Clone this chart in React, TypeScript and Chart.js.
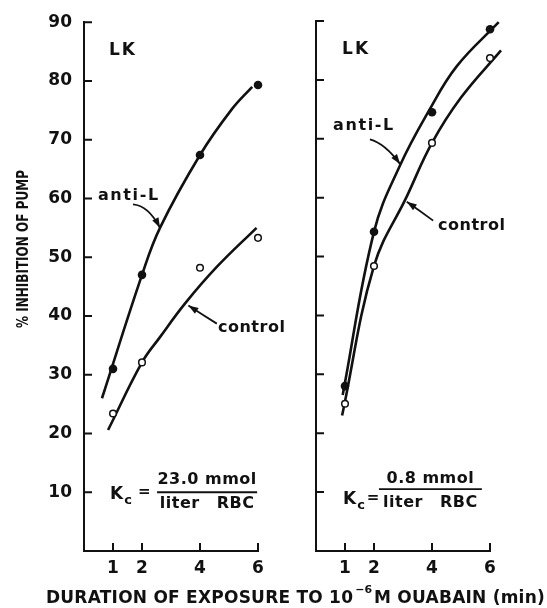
import React, { useEffect, useRef } from 'react';
import { Chart, registerables } from 'chart.js';

Chart.register(...registerables);

// ---------- data ----------
const TIMES = [1, 2, 4, 6];
const X_TICKS = [1, 2, 4, 6];
const Y_TICKS = [10, 20, 30, 40, 50, 60, 70, 80, 90];

const LEFT_ANTI_L = [31, 47, 67.4, 79.3];
const LEFT_CONTROL = [23.4, 32.1, 48.2, 53.3];
const RIGHT_ANTI_L = [28, 54.2, 74.5, 88.6];
const RIGHT_CONTROL = [25, 48.4, 69.3, 83.7];

// hand-drawn fitted curves
const LEFT_ANTI_L_FIT_X = [0.62, 2, 2.62, 4, 5.1, 5.8];
const LEFT_ANTI_L_FIT_Y = [26, 47, 55, 67.4, 75.2, 79];
const LEFT_CONTROL_FIT_X = [0.83, 2, 2.62, 3.48, 4.57, 5.95];
const LEFT_CONTROL_FIT_Y = [20.6, 32.1, 36.4, 42.1, 48.3, 55.0];
const RIGHT_ANTI_L_FIT_X = [0.92, 2, 2.9, 3.91, 4.85, 6.3];
const RIGHT_ANTI_L_FIT_Y = [26.5, 54.2, 65.5, 74.9, 82.3, 89.8];
const RIGHT_CONTROL_FIT_X = [0.9, 2, 3.14, 4, 5, 6.38];
const RIGHT_CONTROL_FIT_Y = [23, 48.4, 60.3, 69.3, 77, 85];

const LEFT_KC_NUM = '23.0 mmol';
const RIGHT_KC_NUM = '0.8 mmol';
const KC_DEN = 'liter RBC';

// ---------- style ----------
const W = 547;
const H = 608;
const FONT = '"DejaVu Sans", "Liberation Sans", sans-serif';
const INK = '#111';

type P = [number, number];
interface Notes {
  lk: P;
  antiText: P;
  antiArrow: [P, P, P];
  ctrlText: P;
  ctrlArrow: [P, P, P];
  k: P;
  eq: P;
  fracLine: [number, number, number];
  numY: number;
  denY: number;
  num: string;
}

interface Panel {
  anti: number[];
  ctrl: number[];
  antiFitX: number[];
  antiFitY: number[];
  ctrlFitX: number[];
  ctrlFitY: number[];
  showYLabels: boolean;
  padLeft: number;
  padRight: number;
  yWidth: number;
  titles: boolean;
  notes: Notes;
}

const LEFT: Panel = {
  anti: LEFT_ANTI_L,
  ctrl: LEFT_CONTROL,
  antiFitX: LEFT_ANTI_L_FIT_X,
  antiFitY: LEFT_ANTI_L_FIT_Y,
  ctrlFitX: LEFT_CONTROL_FIT_X,
  ctrlFitY: LEFT_CONTROL_FIT_Y,
  showYLabels: true,
  padLeft: 30,
  padRight: 289,
  yWidth: 54,
  titles: true,
  notes: {
    lk: [0.86, 85.2],
    antiText: [0.48, 60.5],
    antiArrow: [[1.69, 59.0], [2.22, 58.8], [2.62, 55.0]],
    ctrlText: [4.62, 37.9],
    ctrlArrow: [[4.58, 38.7], [4.1, 40.2], [3.6, 41.8]],
    k: [0.9, 9.6],
    eq: [2.08, 10.0],
    fracLine: [2.52, 5.97, 10.0],
    numY: 12.1,
    denY: 8.0,
    num: LEFT_KC_NUM,
  },
};

const RIGHT: Panel = {
  anti: RIGHT_ANTI_L,
  ctrl: RIGHT_CONTROL,
  antiFitX: RIGHT_ANTI_L_FIT_X,
  antiFitY: RIGHT_ANTI_L_FIT_Y,
  ctrlFitX: RIGHT_CONTROL_FIT_X,
  ctrlFitY: RIGHT_CONTROL_FIT_Y,
  showYLabels: false,
  padLeft: 30,
  padRight: 57,
  yWidth: 286,
  titles: false,
  notes: {
    lk: [0.9, 85.1],
    antiText: [0.59, 72.2],
    antiArrow: [[1.86, 69.9], [2.38, 69.2], [2.9, 65.7]],
    ctrlText: [4.21, 55.3],
    ctrlArrow: [[4.04, 56.1], [3.6, 57.7], [3.13, 59.3]],
    k: [0.93, 8.8],
    eq: [1.97, 9.0],
    fracLine: [2.17, 5.72, 10.5],
    numY: 12.2,
    denY: 8.1,
    num: RIGHT_KC_NUM,
  },
};

function setSpacing(ctx: any, px: number) {
  ctx.letterSpacing = px + 'px';
}

function drawText(ctx: any, s: string, x: number, y: number, font: string, align: CanvasTextAlign = 'left', spacing = 0) {
  ctx.font = font;
  ctx.textAlign = align;
  ctx.textBaseline = 'middle';
  setSpacing(ctx, spacing);
  ctx.fillText(s, x, y);
  setSpacing(ctx, 0);
}

function drawArrow(ctx: CanvasRenderingContext2D, a: P, c: P, b: P) {
  ctx.beginPath();
  ctx.moveTo(a[0], a[1]);
  ctx.quadraticCurveTo(c[0], c[1], b[0], b[1]);
  ctx.stroke();
  const ang = Math.atan2(b[1] - c[1], b[0] - c[0]);
  const L = 10;
  const Wd = 3.5;
  const bx = b[0] - L * Math.cos(ang);
  const by = b[1] - L * Math.sin(ang);
  ctx.beginPath();
  ctx.moveTo(b[0], b[1]);
  ctx.lineTo(bx + Wd * Math.sin(ang), by - Wd * Math.cos(ang));
  ctx.lineTo(bx - Wd * Math.sin(ang), by + Wd * Math.cos(ang));
  ctx.closePath();
  ctx.fill();
}

function decorPlugin(panel: Panel) {
  return {
    id: 'panelDecor',
    afterDatasetsDraw(chart: any) {
      const ctx = chart.ctx as CanvasRenderingContext2D;
      const xs = chart.scales.x;
      const ys = chart.scales.y;
      const area = chart.chartArea;
      const px = (v: number) => xs.getPixelForValue(v);
      const py = (v: number) => ys.getPixelForValue(v);
      const pt = (p: P): P => [px(p[0]), py(p[1])];
      const n = panel.notes;
      ctx.save();
      ctx.strokeStyle = INK;
      ctx.fillStyle = INK;
      ctx.lineCap = 'butt';

      // inward tick marks
      ctx.lineWidth = 2;
      ctx.beginPath();
      for (const v of Y_TICKS) {
        const y = py(v);
        ctx.moveTo(area.left, y);
        ctx.lineTo(area.left + 8, y);
      }
      for (const v of X_TICKS) {
        const x = px(v);
        ctx.moveTo(x, area.bottom);
        ctx.lineTo(x, area.bottom - 8);
      }
      ctx.stroke();

      // LK
      const lk = pt(n.lk);
      drawText(ctx, 'LK', lk[0], lk[1], `bold 17px ${FONT}`, 'left', 2);

      // labels + arrows
      const at = pt(n.antiText);
      drawText(ctx, 'anti-L', at[0], at[1], `bold 16px ${FONT}`, 'left', 1.6);
      const ct = pt(n.ctrlText);
      drawText(ctx, 'control', ct[0], ct[1], `bold 16px ${FONT}`, 'left', 0.5);
      ctx.lineWidth = 1.8;
      drawArrow(ctx, pt(n.antiArrow[0]), pt(n.antiArrow[1]), pt(n.antiArrow[2]));
      drawArrow(ctx, pt(n.ctrlArrow[0]), pt(n.ctrlArrow[1]), pt(n.ctrlArrow[2]));

      // Kc = fraction
      const k = pt(n.k);
      drawText(ctx, 'K', k[0], k[1], `bold 17px ${FONT}`);
      ctx.font = `bold 17px ${FONT}`;
      const kw = ctx.measureText('K').width;
      drawText(ctx, 'c', k[0] + kw + 1, k[1] + 6, `bold 13px ${FONT}`);
      const eq = pt(n.eq);
      drawText(ctx, '=', eq[0], eq[1], `bold 15px ${FONT}`, 'center');
      const x0 = px(n.fracLine[0]);
      const x1 = px(n.fracLine[1]);
      const ly = py(n.fracLine[2]);
      ctx.lineWidth = 1.8;
      ctx.beginPath();
      ctx.moveTo(x0, ly);
      ctx.lineTo(x1, ly);
      ctx.stroke();
      const mid = (x0 + x1) / 2;
      drawText(ctx, n.num, mid, py(n.numY), `bold 16px ${FONT}`, 'center', 0.5);
      ctx.font = `bold 16px ${FONT}`;
      (ctx as any).wordSpacing = '11px';
      drawText(ctx, KC_DEN, mid, py(n.denY), `bold 16px ${FONT}`, 'center', 0.5);
      (ctx as any).wordSpacing = '0px';

      if (panel.titles) {
        // y-axis title (compressed to the printed length)
        const ys_ = '% INHIBITION OF PUMP';
        ctx.save();
        ctx.translate(24, 249);
        ctx.rotate(-Math.PI / 2);
        ctx.font = `bold 15px ${FONT}`;
        setSpacing(ctx, 0);
        const wy = ctx.measureText(ys_).width;
        ctx.scale(158 / wy, 1);
        ctx.textAlign = 'center';
        ctx.textBaseline = 'middle';
        ctx.fillText(ys_, 0, 0);
        ctx.restore();

        // x-axis title with superscript
        const a = 'DURATION OF EXPOSURE TO 10';
        const b = '\u22126';
        const c = 'M OUABAIN (min)';
        const main = `bold 17px ${FONT}`;
        const sup = `bold 11px ${FONT}`;
        setSpacing(ctx, 0);
        ctx.font = main;
        const wa = ctx.measureText(a).width;
        const wc = ctx.measureText(c).width;
        ctx.font = sup;
        const wb = ctx.measureText(b).width;
        const target = 499;
        const gap = 2;
        const sp = (target - wa - wb - wc - 2 * gap) / (a.length + c.length);
        let x = 295.5 - target / 2;
        const base = 603;
        ctx.textAlign = 'left';
        ctx.textBaseline = 'alphabetic';
        ctx.font = main;
        setSpacing(ctx, sp);
        ctx.fillText(a, x, base);
        x += wa + sp * a.length + gap;
        ctx.font = sup;
        setSpacing(ctx, 0);
        ctx.fillText(b, x, base - 10);
        x += wb + gap;
        ctx.font = main;
        setSpacing(ctx, sp);
        ctx.fillText(c, x, base);
        setSpacing(ctx, 0);
      }
      ctx.restore();
    },
  };
}

function makeConfig(panel: Panel): any {
  const tickFont = { family: FONT, weight: 'bold', size: 17 };
  return {
    type: 'line',
    data: {
      datasets: [
        {
          data: TIMES.map((x, i) => ({ x, y: panel.anti[i] })),
          showLine: false,
          pointRadius: 4.3,
          pointBackgroundColor: INK,
          pointBorderColor: INK,
          pointBorderWidth: 0,
          order: 0,
          clip: false,
        },
        {
          data: TIMES.map((x, i) => ({ x, y: panel.ctrl[i] })),
          showLine: false,
          pointRadius: 3.3,
          pointBackgroundColor: '#fff',
          pointBorderColor: INK,
          pointBorderWidth: 1.5,
          order: 0,
          clip: false,
        },
        {
          data: panel.antiFitX.map((x, i) => ({ x, y: panel.antiFitY[i] })),
          borderColor: INK,
          borderWidth: 2.6,
          pointRadius: 0,
          tension: 0.4,
          fill: false,
          order: 1,
          clip: false,
        },
        {
          data: panel.ctrlFitX.map((x, i) => ({ x, y: panel.ctrlFitY[i] })),
          borderColor: INK,
          borderWidth: 2.6,
          pointRadius: 0,
          tension: 0.4,
          fill: false,
          order: 1,
          clip: false,
        },
      ],
    },
    options: {
      animation: false,
      responsive: false,
      events: [],
      layout: { padding: { left: panel.padLeft, right: panel.padRight, top: 21, bottom: 0 } },
      plugins: { legend: { display: false }, tooltip: { enabled: false }, title: { display: false } },
      scales: {
        x: {
          type: 'linear',
          min: 0,
          max: 6,
          afterBuildTicks: (s: any) => {
            s.ticks = X_TICKS.map((v) => ({ value: v }));
          },
          afterFit: (s: any) => {
            s.height = 57;
          },
          ticks: { font: tickFont, color: INK, padding: 7, autoSkip: false, maxRotation: 0, callback: (v: any) => String(v) },
          grid: { display: true, drawOnChartArea: false, drawTicks: false, color: 'rgba(0,0,0,0)' },
          border: { display: true, color: INK, width: 2 },
        },
        y: {
          type: 'linear',
          min: 0,
          max: 90,
          afterBuildTicks: (s: any) => {
            s.ticks = Y_TICKS.map((v) => ({ value: v }));
          },
          afterFit: (s: any) => {
            s.width = panel.yWidth;
          },
          ticks: { display: panel.showYLabels, font: tickFont, color: INK, padding: 12, callback: (v: any) => String(v) },
          grid: { display: true, drawOnChartArea: false, drawTicks: false, color: 'rgba(0,0,0,0)' },
          border: { display: true, color: INK, width: 2 },
        },
      },
    },
    plugins: [decorPlugin(panel)],
  };
}

export default function App() {
  const leftRef = useRef<HTMLCanvasElement>(null);
  const rightRef = useRef<HTMLCanvasElement>(null);
  useEffect(() => {
    document.body.style.margin = '0';
    const a = new Chart(leftRef.current as HTMLCanvasElement, makeConfig(LEFT));
    const b = new Chart(rightRef.current as HTMLCanvasElement, makeConfig(RIGHT));
    return () => {
      a.destroy();
      b.destroy();
    };
  }, []);
  const cs: React.CSSProperties = { position: 'absolute', left: 0, top: 0, width: W, height: H };
  return (
    <div style={{ position: 'relative', width: W, height: H, background: '#fff' }}>
      <canvas ref={leftRef} width={W} height={H} style={cs} />
      <canvas ref={rightRef} width={W} height={H} style={cs} />
    </div>
  );
}
